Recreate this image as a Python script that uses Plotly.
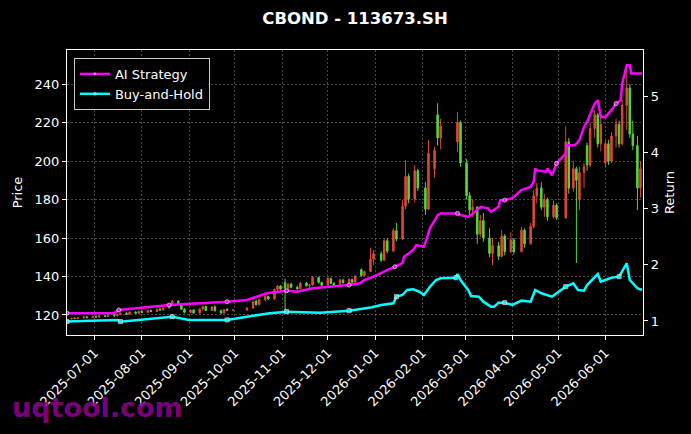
import numpy as np
import pandas as pd
import plotly.graph_objects as go

# ---------------- data ----------------
candle_dates = [
    "2025-06-16", "2025-06-18", "2025-06-20", "2025-06-24", "2025-06-26", "2025-06-30",
    "2025-07-02", "2025-07-04", "2025-07-08", "2025-07-10", "2025-07-14", "2025-07-16",
    "2025-07-18", "2025-07-22", "2025-07-24", "2025-07-28", "2025-07-30",
    "2025-08-01", "2025-08-05", "2025-08-07", "2025-08-11", "2025-08-13", "2025-08-15",
    "2025-08-19", "2025-08-21", "2025-08-25", "2025-08-27", "2025-08-29",
    "2025-09-02", "2025-09-04", "2025-09-08", "2025-09-10", "2025-09-12", "2025-09-16",
    "2025-09-18", "2025-09-22", "2025-09-24", "2025-09-26", "2025-09-30",
    "2025-10-09", "2025-10-13", "2025-10-15", "2025-10-17", "2025-10-21", "2025-10-23",
    "2025-10-27", "2025-10-29", "2025-10-31", "2025-11-03", "2025-11-05", "2025-11-07",
    "2025-11-11", "2025-11-13", "2025-11-17", "2025-11-19", "2025-11-21", "2025-11-25",
    "2025-11-27", "2025-12-01", "2025-12-03", "2025-12-05", "2025-12-09", "2025-12-11",
    "2025-12-15", "2025-12-17", "2025-12-19", "2025-12-23", "2025-12-25", "2025-12-29",
    "2025-12-31", "2026-01-05", "2026-01-07", "2026-01-09", "2026-01-13", "2026-01-15",
    "2026-01-19", "2026-01-21", "2026-01-23", "2026-01-27", "2026-01-29", "2026-02-03",
    "2026-02-05", "2026-02-09", "2026-02-11", "2026-02-13", "2026-02-24", "2026-02-26",
    "2026-03-02", "2026-03-04", "2026-03-06", "2026-03-09", "2026-03-11", "2026-03-13",
    "2026-03-17", "2026-03-19", "2026-03-23", "2026-03-25", "2026-03-27", "2026-03-31",
    "2026-04-02", "2026-04-07", "2026-04-09", "2026-04-13", "2026-04-15", "2026-04-17",
    "2026-04-20", "2026-04-22", "2026-04-24", "2026-04-28", "2026-04-30",
    "2026-05-06", "2026-05-08", "2026-05-11", "2026-05-13", "2026-05-15", "2026-05-18",
    "2026-05-20", "2026-05-22", "2026-05-25", "2026-05-27", "2026-05-29",
    "2026-06-01", "2026-06-03", "2026-06-05", "2026-06-08", "2026-06-10", "2026-06-12",
    "2026-06-15", "2026-06-17", "2026-06-19", "2026-06-22", "2026-06-24",
]
opens = [
    118.0, 118.3, 118.1, 118.5, 119.0, 118.6,
    119.3, 118.9, 119.6, 119.2, 120.1, 119.5,
    120.3, 120.9, 120.4, 121.5, 120.9,
    121.9, 121.3, 122.3, 121.8, 123.0, 122.6,
    123.7, 125.0, 127.2, 125.6, 123.0,
    121.4, 122.6, 121.0, 123.1, 124.4, 122.3,
    124.2, 122.2, 121.0, 122.8, 122.4,
    122.6, 123.6, 127.0, 125.4, 128.0, 129.6,
    128.3, 133.2, 135.0, 136.8, 134.0, 136.0,
    134.4, 133.6, 136.6, 135.2, 135.6, 139.5,
    136.9, 135.5, 139.0, 136.4, 135.3, 138.2,
    136.8, 138.4, 137.0, 143.5, 140.5, 142.6,
    149.0, 151.8, 148.5, 158.6, 153.2, 163.8,
    159.5, 176.5, 192.0, 180.2, 195.0, 186.0,
    175.0, 196.0, 224.0, 212.0, 210.0, 220.0,
    199.0, 182.0, 174.5, 176.0, 162.0, 169.0,
    160.0, 152.0, 156.0, 150.5, 161.0, 153.0,
    159.0, 153.0, 164.0, 157.0, 166.0, 182.0,
    186.0, 176.0, 180.0, 171.0, 177.0,
    170.5, 210.0, 186.0, 196.0, 180.0, 194.0,
    208.0, 198.0, 217.0, 224.0, 209.0,
    199.0, 209.0, 200.0, 213.0, 219.0, 209.0,
    229.0, 238.0, 214.0, 208.0, 186.0,
]
highs = [
    118.6, 118.8, 118.7, 119.3, 119.4, 119.6,
    119.8, 119.9, 120.0, 120.4, 120.5, 120.6,
    121.2, 121.5, 121.8, 122.0, 122.2,
    122.4, 122.6, 122.8, 123.4, 123.8, 124.0,
    125.3, 127.8, 127.6, 126.0, 123.5,
    122.9, 123.0, 123.4, 124.8, 124.8, 124.6,
    125.0, 122.8, 123.2, 123.6, 123.0,
    124.0, 127.5, 128.2, 128.5, 130.2, 130.0,
    133.8, 135.5, 135.6, 139.0, 136.5, 136.8,
    135.3, 137.0, 137.2, 136.0, 140.2, 139.9,
    137.4, 139.6, 139.4, 137.0, 138.8, 138.6,
    139.0, 138.9, 140.8, 144.2, 143.0, 155.0,
    153.8, 153.0, 159.5, 160.0, 165.0, 167.8,
    179.8, 200.5, 193.5, 197.8, 196.0, 189.0,
    211.0, 207.5, 230.0, 222.0, 225.5, 221.0,
    201.0, 184.0, 180.0, 176.5, 172.0, 173.0,
    165.0, 160.0, 158.0, 164.0, 162.0, 163.0,
    160.0, 165.7, 165.0, 167.8, 185.0, 188.6,
    189.0, 183.0, 181.0, 179.5, 178.0,
    218.0, 212.0, 200.0, 197.0, 197.0, 199.0,
    209.5, 220.0, 226.5, 225.0, 223.0,
    211.0, 211.0, 215.0, 222.0, 221.0, 232.0,
    249.0, 240.0, 221.0, 213.0, 200.0,
]
lows = [
    117.6, 117.9, 117.8, 118.2, 118.4, 118.5,
    118.7, 118.8, 119.0, 119.1, 119.3, 119.4,
    119.9, 120.2, 120.2, 120.6, 120.8,
    121.0, 121.1, 121.5, 121.6, 122.2, 122.4,
    123.4, 124.6, 125.2, 122.5, 120.8,
    121.0, 120.6, 120.8, 122.8, 122.0, 122.1,
    121.8, 120.6, 120.8, 122.0, 121.9,
    122.3, 123.3, 124.8, 125.0, 127.2, 127.8,
    128.0, 132.5, 132.8, 122.6, 133.2, 133.8,
    133.0, 133.4, 134.8, 134.0, 135.3, 136.4,
    135.0, 135.2, 136.0, 134.6, 135.0, 136.3,
    136.5, 136.6, 136.8, 139.8, 140.2, 142.2,
    146.0, 147.5, 148.0, 152.0, 152.6, 158.2,
    159.0, 175.0, 178.0, 178.5, 184.5, 172.0,
    174.5, 191.5, 208.0, 206.0, 204.5, 197.0,
    180.0, 172.0, 171.0, 157.0, 160.5, 158.0,
    150.0, 146.0, 148.5, 150.0, 151.0, 152.0,
    151.5, 152.5, 155.0, 156.5, 165.0, 178.0,
    174.5, 171.0, 169.0, 170.0, 169.5,
    170.0, 183.0, 184.0, 147.0, 174.5, 186.0,
    195.0, 197.0, 212.0, 207.0, 205.0,
    197.0, 198.0, 199.0, 207.0, 207.0, 208.0,
    216.0, 212.0, 205.7, 174.5, 181.0,
]
closes = [
    118.3, 118.1, 118.5, 119.0, 118.6, 119.3,
    118.9, 119.6, 119.2, 120.1, 119.5, 120.3,
    120.9, 120.4, 121.5, 120.9, 121.9,
    121.3, 122.3, 121.8, 123.0, 122.6, 123.7,
    125.0, 127.2, 125.6, 123.0, 121.4,
    122.6, 121.0, 123.1, 124.4, 122.3, 124.2,
    122.2, 121.0, 122.8, 122.4, 122.6,
    123.6, 127.0, 125.4, 128.0, 129.6, 128.3,
    133.2, 135.0, 133.4, 134.0, 136.0, 134.4,
    133.6, 136.6, 135.2, 135.6, 139.5, 136.9,
    135.5, 139.0, 136.4, 135.3, 138.2, 136.8,
    138.4, 137.0, 140.2, 140.5, 142.6, 149.0,
    151.8, 148.5, 158.6, 153.2, 163.8, 159.5,
    176.5, 192.0, 180.2, 195.0, 186.0, 175.0,
    204.0, 205.5, 212.0, 218.0, 220.0, 199.0,
    182.0, 174.5, 176.0, 162.0, 169.0, 160.0,
    152.0, 156.0, 150.5, 161.0, 153.0, 159.0,
    153.0, 164.0, 157.0, 166.0, 182.0, 186.0,
    176.0, 180.0, 171.0, 177.0, 170.5,
    210.0, 186.0, 196.0, 190.0, 194.0, 197.0,
    198.0, 217.0, 224.0, 209.0, 219.0,
    209.0, 200.0, 213.0, 219.0, 209.0, 229.0,
    238.0, 214.0, 208.0, 186.0, 196.0,
]

ai_dates = [
    "2025-06-13", "2025-07-14", "2025-07-17", "2025-08-19", "2025-09-26", "2025-10-09",
    "2025-10-22", "2025-11-04", "2025-11-11", "2025-11-21", "2025-12-15", "2025-12-22",
    "2025-12-25", "2025-12-31", "2026-01-07", "2026-01-14", "2026-01-19", "2026-01-20",
    "2026-01-26", "2026-01-28", "2026-02-02", "2026-02-04", "2026-02-06", "2026-02-10",
    "2026-02-11", "2026-02-13", "2026-02-24", "2026-02-26", "2026-03-03", "2026-03-05",
    "2026-03-09", "2026-03-11", "2026-03-16", "2026-03-18", "2026-03-23", "2026-03-24",
    "2026-03-27", "2026-04-01", "2026-04-07", "2026-04-13", "2026-04-15", "2026-04-16",
    "2026-04-17", "2026-04-23", "2026-04-24", "2026-04-27", "2026-04-30", "2026-05-06",
    "2026-05-07", "2026-05-12", "2026-05-15", "2026-05-18", "2026-05-20", "2026-05-25",
    "2026-05-27", "2026-05-29", "2026-06-01", "2026-06-04", "2026-06-08", "2026-06-11",
    "2026-06-12", "2026-06-15", "2026-06-17", "2026-06-18", "2026-06-25",
]
ai_return = [
    1.137, 1.140, 1.195, 1.284, 1.343, 1.373,
    1.492, 1.538, 1.520, 1.581, 1.639, 1.670,
    1.728, 1.787, 1.876, 1.964, 2.030, 2.142,
    2.261, 2.350, 2.320, 2.474, 2.652, 2.829,
    2.883, 2.913, 2.913, 2.883, 2.853, 2.883,
    2.972, 3.025, 3.007, 2.941, 3.030, 3.149,
    3.149, 3.185, 3.327, 3.385, 3.474, 3.712,
    3.682, 3.652, 3.712, 3.593, 3.801, 3.979,
    4.126, 4.126, 4.215, 4.451, 4.540, 4.867,
    4.925, 4.629, 4.629, 4.718, 4.867, 4.925,
    5.222, 5.547, 5.547, 5.400, 5.400,
]

bh_dates = [
    "2025-06-13", "2025-07-16", "2025-07-18", "2025-08-21", "2025-09-01", "2025-09-26",
    "2025-10-09", "2025-10-24", "2025-11-04", "2025-11-26", "2025-12-15", "2025-12-30",
    "2026-01-05", "2026-01-13", "2026-01-15", "2026-01-19", "2026-01-22", "2026-01-26",
    "2026-01-30", "2026-02-02", "2026-02-06", "2026-02-10", "2026-02-13", "2026-02-23",
    "2026-02-24", "2026-02-26", "2026-03-03", "2026-03-05", "2026-03-10", "2026-03-13",
    "2026-03-18", "2026-03-20", "2026-03-23", "2026-03-27", "2026-04-01", "2026-04-07",
    "2026-04-13", "2026-04-16", "2026-04-20", "2026-04-24", "2026-04-27", "2026-05-06",
    "2026-05-11", "2026-05-14", "2026-05-18", "2026-05-20", "2026-05-25", "2026-05-27",
    "2026-05-29", "2026-06-05", "2026-06-10", "2026-06-15", "2026-06-17", "2026-06-22",
    "2026-06-25",
]
bh_return = [
    0.988, 1.018, 0.988, 1.076, 1.018, 1.018,
    1.076, 1.137, 1.165, 1.147, 1.183, 1.243,
    1.284, 1.314, 1.432, 1.462, 1.551, 1.563,
    1.520, 1.462, 1.609, 1.728, 1.758, 1.769,
    1.835, 1.728, 1.551, 1.444, 1.432, 1.343,
    1.254, 1.254, 1.325, 1.325, 1.284, 1.361,
    1.343, 1.551, 1.492, 1.462, 1.432, 1.609,
    1.670, 1.551, 1.538, 1.639, 1.787, 1.835,
    1.698, 1.769, 1.787, 2.025, 1.728, 1.581,
    1.551,
]

x_tick_vals = ["2025-07-01", "2025-08-01", "2025-09-01", "2025-10-01", "2025-11-01",
               "2025-12-01", "2026-01-01", "2026-02-01", "2026-03-01", "2026-04-01",
               "2026-05-01", "2026-06-01"]
price_ticks = [120, 140, 160, 180, 200, 220, 240]
return_ticks = [1, 2, 3, 4, 5]

# ---------------- styling ----------------
FONT = "DejaVu Sans"
UP = "#f5503e"     # rising (Chinese convention: red)
DOWN = "#66ea3e"   # falling (green)
GRID = "rgba(128,128,128,0.55)"


def marker_sizes(dates, step_days=36, size=4):
    d = pd.to_datetime(pd.Series(dates))
    targets = pd.date_range(d.iloc[0], d.iloc[-1], freq=f"{step_days}D")
    sizes = np.zeros(len(d))
    for t in targets:
        sizes[int((d - t).abs().idxmin())] = size
    return sizes.tolist()


fig = go.Figure()

fig.add_trace(go.Candlestick(
    x=candle_dates, open=opens, high=highs, low=lows, close=closes,
    increasing=dict(line=dict(color=UP, width=1), fillcolor=UP),
    decreasing=dict(line=dict(color=DOWN, width=1), fillcolor=DOWN),
    showlegend=False, yaxis="y", opacity=0.9,
))

fig.add_trace(go.Scatter(
    x=ai_dates, y=ai_return, name="AI Strategy", yaxis="y2",
    mode="lines+markers",
    line=dict(color="#ff00ff", width=2.5),
    marker=dict(color="#ff00ff", size=marker_sizes(ai_dates)),
))
fig.add_trace(go.Scatter(
    x=bh_dates, y=bh_return, name="Buy-and-Hold", yaxis="y2",
    mode="lines+markers",
    line=dict(color="#00ffff", width=2.5),
    marker=dict(color="#00ffff", size=marker_sizes(bh_dates), symbol="square"),
))

axis_common = dict(
    showline=True, linecolor="white", linewidth=1.2,
    ticks="outside", ticklen=4, tickcolor="white", tickwidth=1,
    tickfont=dict(family=FONT, size=13, color="white"),
    zeroline=False,
)

fig.update_layout(
    width=691, height=434,
    paper_bgcolor="black", plot_bgcolor="black",
    margin=dict(l=67, r=48, t=50, b=99),
    font=dict(family=FONT, size=13, color="white"),
    title=dict(text="<b>CBOND - 113673.SH</b>", x=0.5, xref="paper", xanchor="center",
               y=1 - 18 / 434, yref="container", yanchor="middle",
               font=dict(family=FONT, size=16.5, color="white")),
    xaxis=dict(
        type="date", range=["2025-06-13", "2026-06-25 16:00"],
        tickvals=x_tick_vals, ticktext=x_tick_vals, tickangle=-45,
        showgrid=True, gridcolor=GRID, griddash="2px,2px", gridwidth=0.7,
        mirror=True, rangeslider=dict(visible=False),
        **axis_common,
    ),
    yaxis=dict(
        range=[109.6, 257.7], tickvals=price_ticks,
        showgrid=True, gridcolor=GRID, griddash="2px,2px", gridwidth=0.7,
        mirror=True,
        title=dict(text="Price", font=dict(family=FONT, size=13, color="white"), standoff=8),
        **axis_common,
    ),
    yaxis2=dict(
        overlaying="y", side="right", range=[0.75, 5.82], tickvals=return_ticks,
        showgrid=False,
        title=dict(text="Return", font=dict(family=FONT, size=13, color="white"), standoff=6),
        **axis_common,
    ),
    legend=dict(
        x=0.012, y=0.972, xanchor="left", yanchor="top",
        bgcolor="rgba(0,0,0,0.85)", bordercolor="#cccccc", borderwidth=1,
        font=dict(family=FONT, size=13, color="white"),
        tracegroupgap=0,
    ),
    showlegend=True,
    annotations=[dict(
        text="<b>uqtool.com</b>", xref="paper", yref="paper",
        x=-0.099, y=-0.256, xanchor="left", yanchor="middle", showarrow=False,
        font=dict(family=FONT, size=27, color="rgba(140,0,140,0.9)"),
    )],
)

fig.write_html("out.html")
